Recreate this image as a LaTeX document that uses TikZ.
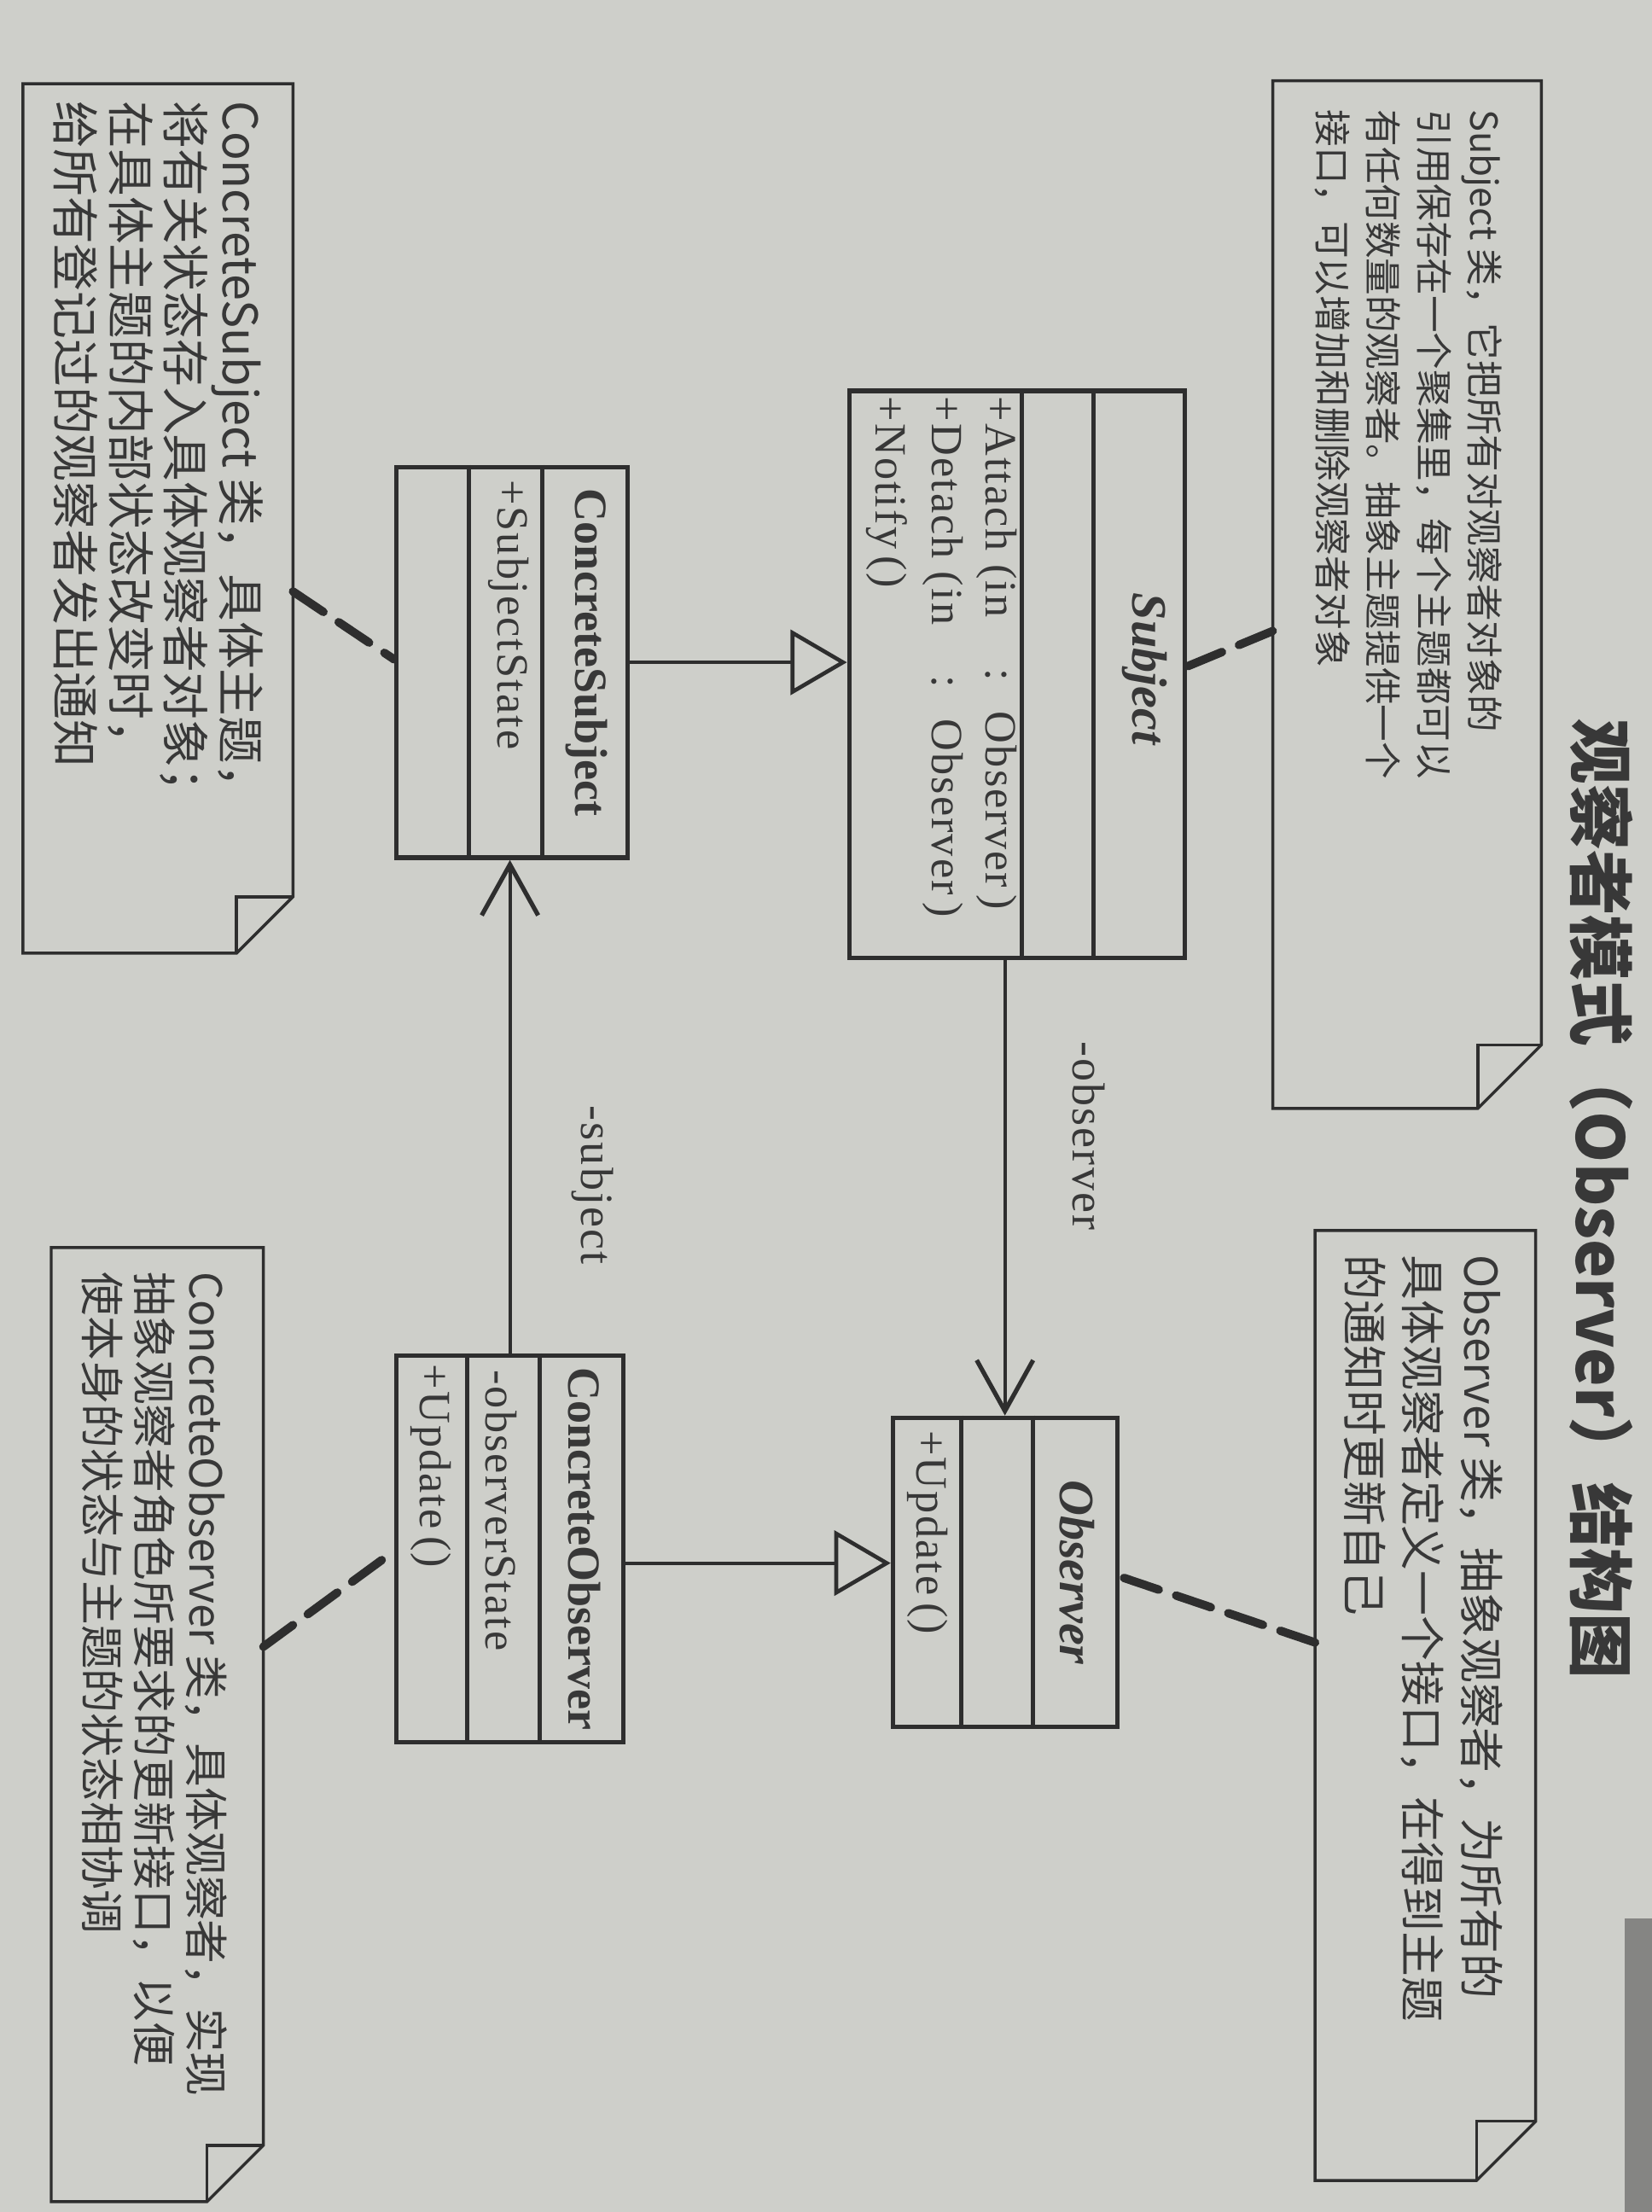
\documentclass[tikz,border=0pt]{standalone}
\usepackage{fontspec}
\setmainfont{Liberation Serif}
\newfontfamily\cjk{Noto Sans CJK SC}
\newfontfamily\memb{Liberation Serif}[LetterSpace=4]
\usetikzlibrary{arrows.meta,calc}

\definecolor{paper}{HTML}{CECFCA}
\definecolor{ink}{HTML}{2E2E2E}
\definecolor{txt}{HTML}{383838}
\definecolor{pageedge}{HTML}{858583}

% let close baselines win over \lineskip
\newcommand\tightlines{\lineskiplimit-20pt\relax}

\tikzset{
  classbox/.style={draw=ink, line width=0.9pt, inner sep=0pt, rectangle},
  divider/.style={draw=ink, line width=0.9pt},
  notebox/.style={draw=none, inner sep=0pt, rectangle},
  noteline/.style={draw=ink, line width=0.6pt, line join=miter},
  notetext/.style={text=txt, align=left, anchor=north west, inner sep=0pt},
  cname/.style={font=\bfseries\fontsize{9.3}{10}\selectfont, text=txt, inner sep=0pt},
  aname/.style={font=\bfseries\itshape\fontsize{10}{11}\selectfont, text=txt, inner sep=0pt},
  member/.style={font=\memb\fontsize{9}{10}\selectfont, text=txt, anchor=west, inner sep=0pt},
  inherit/.style={draw=ink, line width=0.7pt, -{Triangle[open, length=0.40cm, width=0.46cm, line width=0.8pt]}},
  assoc/.style={draw=ink, line width=0.7pt, -{Straight Barb[length=0.36cm, width=0.40cm, line width=0.9pt]}},
  notelink/.style={draw=ink, line width=1.7pt, dash pattern=on 0.26cm off 0.13cm, line cap=round},
  rolelabel/.style={font=\memb\fontsize{9.3}{10}\selectfont, text=txt, inner sep=0pt},
}

% outline of a UML note with a folded top-right corner
\newcommand\drawnote[2]{%
  \draw[noteline] (#1.south west) -- (#1.south east) -- ($(#1.north east)+(0,-#2)$)
    -- ($(#1.north east)+(-#2,0)$) -- (#1.north west) -- cycle;
  \draw[noteline] ($(#1.north east)+(-#2,0)$) -- ($(#1.north east)+(-#2,-#2)$)
    -- ($(#1.north east)+(0,-#2)$);
}

\begin{document}
\begin{tikzpicture}
\useasboundingbox (0,-15.68) rectangle (11.71,0);
\begin{scope}[rotate=-90, transform shape]
  % page
  \fill[paper] (0,0) rectangle (15.68,11.71);
  \fill[pageedge] (13.6,11.52) rectangle (15.68,11.71);

  % title
  \node[font=\cjk\bfseries\fontsize{13.2}{15}\selectfont, text=txt] (title) at (8.50,11.35)
    {观察者模式（Observer）结构图};

  % notes
  \node[notebox, minimum width=7.27cm, minimum height=1.89cm] (nsubj) at (4.215,9.975) {};
  \drawnote{nsubj}{0.45}
  \node[notetext, font=\cjk\fontsize{7.5}{10.2}\selectfont\tightlines] (tsubj) at (0.77,10.655)
    {Subject 类，它把所有对观察者对象的\\引用保存在一个聚集里，每个主题都可以\\有任何数量的观察者。抽象主题提供一个\\接口，可以增加和删除观察者对象};

  \node[notebox, minimum width=6.72cm, minimum height=1.55cm] (nobs) at (12.09,10.105) {};
  \drawnote{nobs}{0.42}
  \node[notetext, font=\cjk\fontsize{9.1}{11.8}\selectfont\tightlines] (tobs) at (8.89,10.66)
    {Observer 类，抽象观察者，为所有的\\具体观察者定义一个接口，在得到主题\\的通知时更新自己};

  \node[notebox, minimum width=6.15cm, minimum height=1.90cm] (ncs) at (3.675,1.12) {};
  \drawnote{ncs}{0.40}
  \node[notetext, font=\cjk\fontsize{9.6}{11.1}\selectfont\tightlines] (tcs) at (0.71,1.87)
    {ConcreteSubject 类，具体主题，\\将有关状态存入具体观察者对象；\\在具体主题的内部状态改变时，\\给所有登记过的观察者发出通知};

  \node[notebox, minimum width=6.75cm, minimum height=1.49cm] (nco) at (12.225,1.115) {};
  \drawnote{nco}{0.40}
  \node[notetext, font=\cjk\fontsize{8.9}{10.5}\selectfont\tightlines] (tco) at (9.01,1.62)
    {ConcreteObserver 类，具体观察者，实现\\抽象观察者角色所要求的更新接口，以便\\使本身的状态与主题的状态相协调};

  % classes
  \node[classbox, minimum width=4.02cm, minimum height=2.38cm] (subject) at (4.78,7.21) {};
  \draw[divider] ($(subject.south west)+(0,1.24)$) -- ($(subject.south east)+(0,1.24)$);
  \draw[divider] ($(subject.south west)+(0,1.75)$) -- ($(subject.south east)+(0,1.75)$);
  \node[aname] (subjectname) at ($(subject.north)+(-0.04,-0.30)$) {Subject};
  \node[member] (subjectop1) at ($(subject.south west)+(0.05,1.06)$)
    {+Attach (in\hspace{0.36cm}:\hspace{0.22cm}Observer\,)};
  \node[member] (subjectop2) at ($(subject.south west)+(0.05,0.68)$)
    {+Detach (in\hspace{0.36cm}:\hspace{0.22cm}Observer\,)};
  \node[member] (subjectop3) at ($(subject.south west)+(0.05,0.28)$) {+Notify\,()};

  \node[classbox, minimum width=2.19cm, minimum height=1.59cm] (observer) at (11.145,7.125) {};
  \draw[divider] ($(observer.south west)+(0,0.50)$) -- ($(observer.south east)+(0,0.50)$);
  \draw[divider] ($(observer.south west)+(0,1.01)$) -- ($(observer.south east)+(0,1.01)$);
  \node[aname] (observername) at ($(observer.north)+(0,-0.30)$) {Observer};
  \node[member] (observerop) at ($(observer.south west)+(0.10,0.26)$) {+Update\,()};

  \node[classbox, minimum width=2.77cm, minimum height=1.64cm] (cs) at (4.695,3.63) {};
  \draw[divider] ($(cs.south west)+(0,0.53)$) -- ($(cs.south east)+(0,0.53)$);
  \draw[divider] ($(cs.south west)+(0,1.05)$) -- ($(cs.south east)+(0,1.05)$);
  \node[cname] (csname) at ($(cs.north)+(-0.07,-0.31)$) {ConcreteSubject};
  \node[member] (csattr) at ($(cs.south west)+(0.10,0.81)$) {+SubjectState};

  \node[classbox, minimum width=2.74cm, minimum height=1.61cm] (co) at (10.98,3.615) {};
  \draw[divider] ($(co.south west)+(0,0.52)$) -- ($(co.south east)+(0,0.52)$);
  \draw[divider] ($(co.south west)+(0,1.03)$) -- ($(co.south east)+(0,1.03)$);
  \node[cname] (coname) at ($(co.north)+(0,-0.29)$) {ConcreteObserver};
  \node[member] (coattr) at ($(co.south west)+(0.11,0.76)$) {-observerState};
  \node[member] (coop) at ($(co.south west)+(0.07,0.26)$) {+Update\,()};

  % generalisations
  \draw[inherit] (cs.north) -- (cs.north |- subject.south);
  \coordinate (cogen) at ($(co.north)+(0.10,0)$);
  \draw[inherit] (cogen) -- (cogen |- observer.south);

  % associations
  \coordinate (obsstart) at ($(subject.south east)+(0,1.12)$);
  \draw[assoc] (obsstart) -- (obsstart -| observer.west);
  \node[rolelabel] (lobs) at (8.05,7.72) {-observer};
  \draw[assoc] (co.west) -- (co.west -| cs.east);
  \node[rolelabel] (lsubj) at (8.40,4.20) {-subject};

  % note attachments
  \draw[notelink] ($(nsubj.south west)+(3.90,0)$) -- ($(subject.north west)+(1.97,0)$);
  \draw[notelink] ($(nobs.south west)+(2.92,0)$) -- ($(observer.north west)+(1.14,0)$);
  \draw[notelink] ($(ncs.north west)+(3.60,0)$) -- ($(cs.south west)+(1.38,0)$);
  \draw[notelink] ($(nco.north west)+(2.83,0)$) -- ($(co.south west)+(1.40,0)$);
\end{scope}
\end{tikzpicture}
\end{document}
